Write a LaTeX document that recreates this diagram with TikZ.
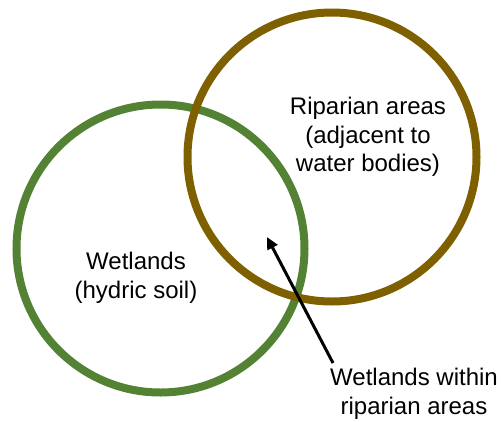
\documentclass[tikz,border=0pt]{standalone}
\usepackage{fontspec}
\setmainfont{Liberation Sans}
\usetikzlibrary{arrows.meta}
\definecolor{wetgreen}{RGB}{84,130,53}
\definecolor{ripbrown}{RGB}{127,96,0}

\begin{document}
\begin{tikzpicture}[x=1pt, y=-1pt, font=\fontsize{24}{28.5}\selectfont]
\useasboundingbox (0,0) rectangle (501,421);
\node[draw=wetgreen, line width=8pt, circle, inner sep=0pt, minimum size=288pt] (W) at (160.5,248.5) {};
\node[draw=ripbrown, line width=8pt, circle, inner sep=0pt, minimum size=289pt] (R) at (332,157) {};

\node[align=center] at (136,278) (label1) {Wetlands\\(hydric soil)};
\node[align=center] at (368,137) (label2) {Riparian areas\\(adjacent to\\water bodies)};
\node[align=center] at (414,394) (label3) {Wetlands within\\riparian areas};

\coordinate (AS) at (333,363);
\coordinate (AE) at (267,237);
\draw[line width=3pt, -{Triangle[length=12pt, width=11pt]}] (AS) -- (AE);
\end{tikzpicture}
\end{document}
